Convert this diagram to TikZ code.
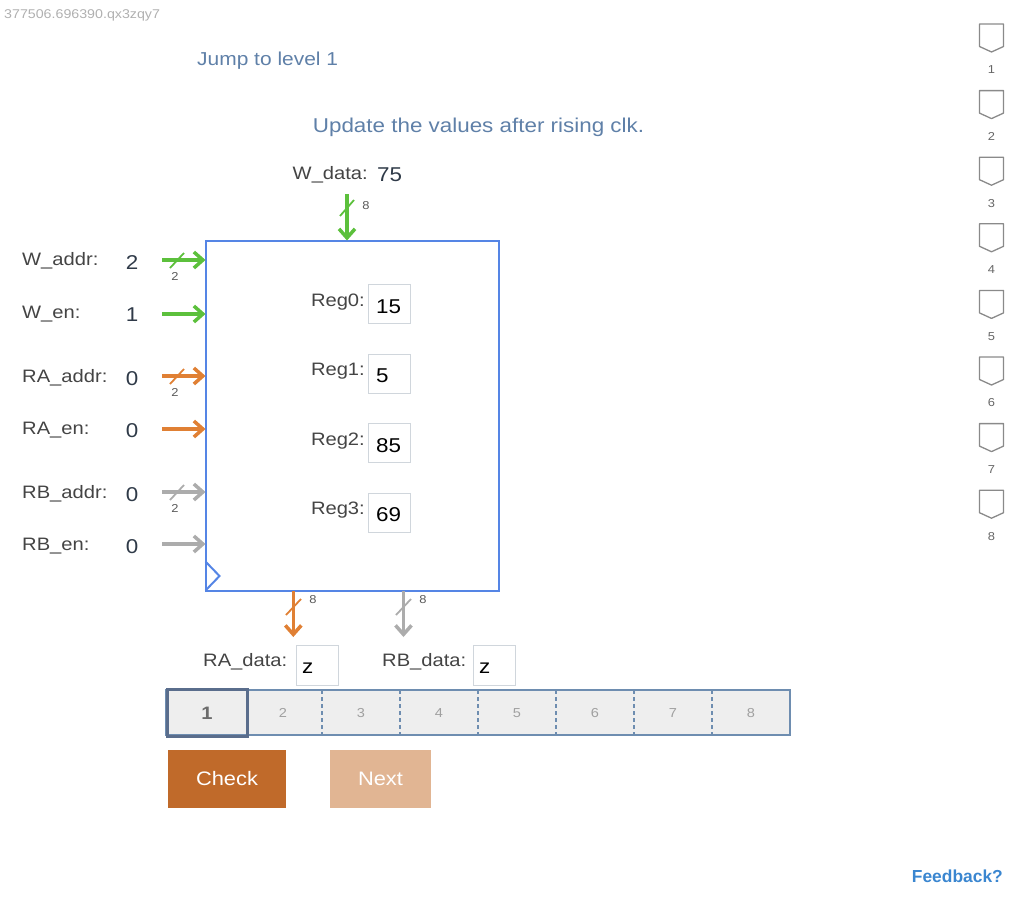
\documentclass[tikz,border=0pt]{standalone}
\usepackage{fontspec}
\setmainfont{Liberation Sans}[FakeStretch=1.12]
\newfontfamily\fbfont{Liberation Sans}
\usetikzlibrary{arrows.meta}
\newcommand\fsz[1]{\fontsize{#1}{#1}\selectfont}
\definecolor{sigGreen}{RGB}{92,192,60}
\definecolor{sigOrange}{RGB}{224,128,52}
\definecolor{sigGray}{RGB}{172,172,172}
\definecolor{boxBlue}{RGB}{85,133,229}
\definecolor{lblGray}{RGB}{68,68,68}
\definecolor{valCol}{RGB}{47,58,72}
\definecolor{titleCol}{RGB}{95,128,168}
\definecolor{idGray}{RGB}{176,176,176}
\definecolor{regBorder}{RGB}{208,214,220}
\definecolor{barBorder}{RGB}{110,141,176}
\definecolor{barFill}{RGB}{238,238,238}
\definecolor{thickBorder}{RGB}{90,109,140}
\definecolor{numGray}{RGB}{160,160,160}
\definecolor{checkCol}{RGB}{192,106,42}
\definecolor{nextCol}{RGB}{225,181,147}
\definecolor{badgeGray}{RGB}{138,138,138}
\definecolor{fbBlue}{RGB}{58,134,208}
\definecolor{busGray}{RGB}{90,90,90}
\tikzset{
  lbl/.style={anchor=base west, inner sep=0pt, text=lblGray, font=\fsz{18}},
  rlbl/.style={anchor=base east, inner sep=0pt, text=lblGray, font=\fsz{18}},
  val/.style={anchor=base, inner sep=0pt, text=valCol, font=\fsz{20}},
  regval/.style={anchor=base west, inner sep=0pt, text=black, font=\fsz{20}},
  sig/.style={line width=3.5pt, -{Straight Barb[length=9pt,width=16pt]}},
  busslash/.style={line width=1.8pt},
  buslbl/.style={inner sep=0pt, text=busGray, font=\fsz{11.5}},
  regbox/.style={draw=regBorder, line width=1pt, fill=white, minimum width=42pt, minimum height=39pt, inner sep=0pt, outer sep=0pt},
  cellnum/.style={inner sep=0pt, text=numGray, font=\fsz{13}},
  btn/.style={inner sep=0pt, outer sep=0pt, minimum height=58pt, text=white, font=\fsz{19.5}},
  badge/.style={draw=badgeGray, line width=1.3pt, line join=round},
  badgenum/.style={inner sep=0pt, text=gray!80!black, font=\fsz{11.5}},
}
\begin{document}
\begin{tikzpicture}[x=1pt,y=-1pt]
\useasboundingbox (0,0) rectangle (1024,902);
% header texts
\node[anchor=base west, inner sep=0pt, text=idGray, font=\fsz{12.7}] (id) at (4,18) {377506.696390.qx3zqy7};
\node[anchor=base west, inner sep=0pt, text=titleCol, font=\fsz{18.7}] (jump) at (197,65) {Jump to level 1};
\node[anchor=base, inner sep=0pt, text=titleCol, font=\fsz{20}] (upd) at (478.5,132) {Update the values after rising clk.};

% register file box
\node[draw=boxBlue, line width=2pt, minimum width=293.5pt, minimum height=350pt, inner sep=0pt, outer sep=0pt, anchor=north west] (rf) at (205.5,240.5) {};
\draw[boxBlue, line width=2pt, line join=miter] (rf.south west) ++(0,-29) coordinate (ck1) -- ++(14,14.5) coordinate (ck2) -- ++(-14,14.5) coordinate (ck3);

% W_data
\node[anchor=base east, inner sep=0pt, text=lblGray, font=\fsz{18}] (wdL) at (368,179) {W\_data:};
\node[anchor=base west, inner sep=0pt, text=valCol, font=\fsz{20}] (wdV) at (377,181) {75};
\coordinate (wdS) at (347,194);
\draw[sig, sigGreen] (wdS) -- (wdS |- rf.north);
\draw[busslash, sigGreen] (340,216) -- (354,200);
\node[buslbl] (wd8) at (366,206) {8};

% left inputs
\node[lbl] (waL) at (22,265) {W\_addr:};
\node[val] (waV) at (132,269) {2};
\coordinate (waS) at (162,260);
\draw[sig, sigGreen] (waS) -- (waS -| rf.west);
\draw[busslash, sigGreen] (170,268) -- (184,253);
\node[buslbl] (wa2) at (175,276) {2};

\node[lbl] (weL) at (22,318) {W\_en:};
\node[val] (weV) at (132,321) {1};
\coordinate (weS) at (162,314);
\draw[sig, sigGreen] (weS) -- (weS -| rf.west);

\node[lbl] (raL) at (22,382) {RA\_addr:};
\node[val] (raV) at (132,385) {0};
\coordinate (raS) at (162,376);
\draw[sig, sigOrange] (raS) -- (raS -| rf.west);
\draw[busslash, sigOrange] (170,384) -- (184,369);
\node[buslbl] (ra2) at (175,392) {2};

\node[lbl] (reL) at (22,434) {RA\_en:};
\node[val] (reV) at (132,437) {0};
\coordinate (reS) at (162,429);
\draw[sig, sigOrange] (reS) -- (reS -| rf.west);

\node[lbl] (rbL) at (22,498) {RB\_addr:};
\node[val] (rbV) at (132,501) {0};
\coordinate (rbS) at (162,492);
\draw[sig, sigGray] (rbS) -- (rbS -| rf.west);
\draw[busslash, sigGray] (170,500) -- (184,485);
\node[buslbl] (rb2) at (175,508) {2};

\node[lbl] (rbeL) at (22,550) {RB\_en:};
\node[val] (rbeV) at (132,553) {0};
\coordinate (rbeS) at (162,544);
\draw[sig, sigGray] (rbeS) -- (rbeS -| rf.west);

% registers
\node[rlbl] (r0L) at (365,306) {Reg0:};
\node[regbox, anchor=north west] (r0B) at (368.5,284.5) {};
\node[regval] (r0V) at (376,313) {15};
\node[rlbl] (r1L) at (365,375) {Reg1:};
\node[regbox, anchor=north west] (r1B) at (368.5,354) {};
\node[regval] (r1V) at (376,382) {5};
\node[rlbl] (r2L) at (365,445) {Reg2:};
\node[regbox, anchor=north west] (r2B) at (368.5,423.5) {};
\node[regval] (r2V) at (376,452) {85};
\node[rlbl] (r3L) at (365,514) {Reg3:};
\node[regbox, anchor=north west] (r3B) at (368.5,493) {};
\node[regval] (r3V) at (376,521) {69};

% outputs
\coordinate (raO) at (293.3,637);
\draw[sig, sigOrange] (raO |- rf.south) -- (raO);
\draw[busslash, sigOrange] (286,615) -- (301,599);
\node[buslbl] (ra8) at (313,600) {8};
\coordinate (rbO) at (403.5,637);
\draw[sig, sigGray] (rbO |- rf.south) -- (rbO);
\draw[busslash, sigGray] (396,615) -- (411,599);
\node[buslbl] (rb8) at (423,600) {8};

\node[lbl] (radL) at (203,666) {RA\_data:};
\node[regbox, minimum width=42pt, minimum height=40pt, anchor=north west] (radB) at (296,645) {};
\node[regval] (radV) at (302,673) {z};
\node[lbl] (rbdL) at (382,666) {RB\_data:};
\node[regbox, minimum width=42pt, minimum height=40pt, anchor=north west] (rbdB) at (473,645) {};
\node[regval] (rbdV) at (479,673) {z};

% progress bar
\draw[fill=barFill, draw=barBorder, line width=1.2pt] (166,690) rectangle (790,735);
\foreach \k in {2,...,7} {
  \draw[barBorder, line width=1.2pt, dash pattern=on 4pt off 3pt] (166+78*\k,690) -- (166+78*\k,735);
}
\draw[thickBorder, line width=3pt] (167.5,689) rectangle (247.5,736);
\node[inner sep=0pt, text=gray!85!black, font=\bfseries\fsz{18}] (c1) at (207,713) {1};
\foreach \k in {2,...,8} {
  \node[cellnum] (c\k) at (166+78*\k-39,713) {\k};
}

% buttons
\node[btn, fill=checkCol, minimum width=118pt] (check) at (227,779) {Check};
\node[btn, fill=nextCol, minimum width=101pt] (next) at (380.5,779) {Next};

% side badges
\foreach \i in {1,...,8} {
  \pgfmathsetmacro{\t}{24+(\i-1)*66.6}
  \draw[badge] (979.5,\t) -- (1003.5,\t) -- (1003.5,\t+22.5) -- (991.5,\t+28) -- (979.5,\t+22.5) -- cycle;
  \node[badgenum] (b\i) at (991.5,\t+46) {\i};
}

% feedback
\node[anchor=base east, inner sep=0pt, text=fbBlue, font=\fbfont\bfseries\fsz{17.4}] (fb) at (1003,882) {Feedback?};
\end{tikzpicture}
\end{document}
